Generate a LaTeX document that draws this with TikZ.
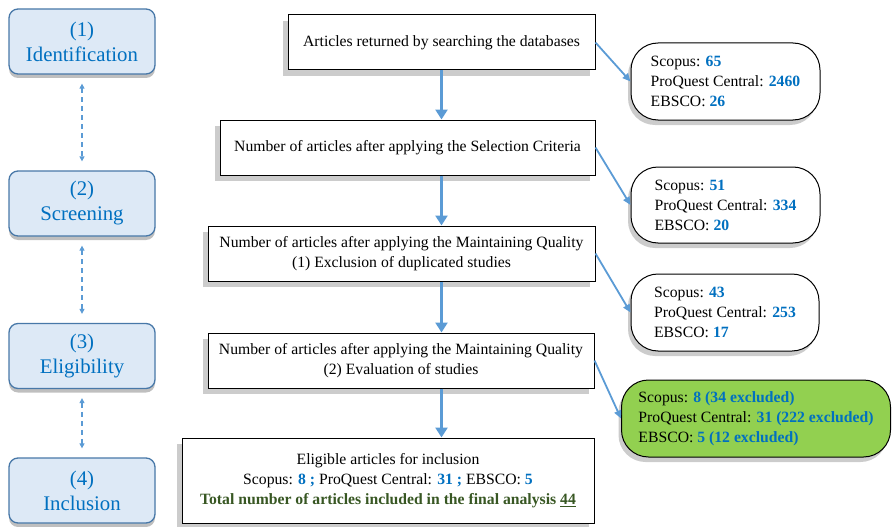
\documentclass[tikz,border=0pt]{standalone}
\usepackage{fontspec}
\setmainfont{Liberation Serif}
\usepackage{tikz}
\usetikzlibrary{shadows}
\usetikzlibrary{arrows.meta, positioning}
\definecolor{stageblue}{RGB}{0,112,192}
\definecolor{stagefill}{RGB}{221,233,246}
\definecolor{stageline}{RGB}{72,120,168}
\definecolor{flowblue}{RGB}{91,155,213}
\definecolor{keptgreen}{RGB}{146,208,80}
\definecolor{totalgreen}{RGB}{56,87,35}
\newcommand{\dbcount}[1]{\textcolor{stageblue}{\textbf{#1}}}

\begin{document}
\begin{tikzpicture}[x=1pt, y=1pt,
	stage/.style={draw=stageline, line width=1.3pt, fill=stagefill, rounded corners=9pt,
		minimum width=146pt, minimum height=65pt, inner sep=0pt, align=center,
		text=stageblue, font=\fontsize{20.8}{25}\selectfont,
		drop shadow={shadow xshift=0pt, shadow yshift=-4pt, fill=black!50}},
	flowbox/.style={draw, line width=1pt, fill=white, inner sep=0pt, align=center,
		font=\fontsize{15.7}{20}\selectfont,
		drop shadow={shadow xshift=-5pt, shadow yshift=-6pt, fill=black!40}},
	dbbox/.style={draw, line width=1pt, fill=white, rounded corners=27pt, inner sep=0pt,
		align=left, font=\fontsize{15.7}{20}\selectfont,
		drop shadow={shadow xshift=-3pt, shadow yshift=-5pt, fill=black!40}},
	flow/.style={draw=flowblue, line width=3pt, -{Triangle[length=10pt, width=12pt]}},
	feed/.style={draw=flowblue, line width=1.8pt, -{Triangle[length=8pt, width=7pt]}},
	link/.style={draw=flowblue, line width=1.2pt, dash pattern=on 5pt off 4pt,
		{Triangle[length=5pt, width=5pt]}-{Triangle[length=5pt, width=5pt]},
		shorten <=9pt, shorten >=9pt}]
	\useasboundingbox (0,0) rectangle (892,-527);

	% Stages on the left
	\node[stage] (ident) at (82,-41.5) {(1)\\Identification};
	\node[stage] (screen) at (82,-203.5) {(2)\\Screening};
	\node[stage] (elig) at (82,-356) {(3)\\Eligibility};
	\node[stage] (incl) at (82,-490.5) {(4)\\Inclusion};

	\draw[link] (ident) -- (screen);
	\draw[link] (screen) -- (elig);
	\draw[link] (elig) -- (incl);

	% Main flow
	\node[flowbox, minimum width=307pt, minimum height=55pt] (found) at (441.5,-42.5)
		{Articles returned by searching the databases};
	\node[flowbox, minimum width=375pt, minimum height=55pt] (select) at (407.5,-147.5)
		{Number of articles after applying the Selection Criteria};
	\node[flowbox, minimum width=387pt, minimum height=55pt] (dedup) at (401.5,-253.5)
		{Number of articles after applying the Maintaining Quality\\(1) Exclusion of duplicated studies};
	\node[flowbox, minimum width=386pt, minimum height=55pt] (quality) at (401,-360.5)
		{Number of articles after applying the Maintaining Quality\\(2) Evaluation of studies};
	\node[flowbox, minimum width=412pt, minimum height=85pt] (final) at (388,-480.5)
		{Eligible articles for inclusion\\
		Scopus: \dbcount{8 ;} ProQuest Central: \dbcount{31 ;} EBSCO: \dbcount{5}\\
		\textcolor{totalgreen}{\textbf{Total number of articles included in the final analysis \underline{44}}}};

	\draw[flow] (found.south) -- (found.south |- select.north);
	\draw[flow] (found.south |- select.south) -- (found.south |- dedup.north);
	\draw[flow] (found.south |- dedup.south) -- (found.south |- quality.north);
	\draw[flow] (found.south |- quality.south) -- (found.south |- final.north);

	% Counts per database
	\node[dbbox, minimum width=189pt, minimum height=77pt] (count1) at (725.5,-81.5)
		{Scopus: \dbcount{65}\\ProQuest Central: \dbcount{2460}\\EBSCO: \dbcount{26}};
	\node[dbbox, minimum width=189pt, minimum height=76pt] (count2) at (725.5,-205)
		{Scopus: \dbcount{51}\\ProQuest Central: \dbcount{334}\\EBSCO: \dbcount{20}};
	\node[dbbox, minimum width=188pt, minimum height=77pt] (count3) at (725,-312.5)
		{Scopus: \dbcount{43}\\ProQuest Central: \dbcount{253}\\EBSCO: \dbcount{17}};
	\node[dbbox, fill=keptgreen, minimum width=269pt, minimum height=77pt] (count4) at (756,-418.5)
		{Scopus: \dbcount{8 (34 excluded)}\\ProQuest Central: \dbcount{31 (222 excluded)}\\EBSCO: \dbcount{5 (12 excluded)}};

	\draw[feed] (found.east) -- (count1.west);
	\draw[feed] (select.east) -- (count2.west);
	\draw[feed] (dedup.east) -- (count3.west);
	\draw[feed] (quality.east) -- (count4.west);
\end{tikzpicture}
\end{document}
